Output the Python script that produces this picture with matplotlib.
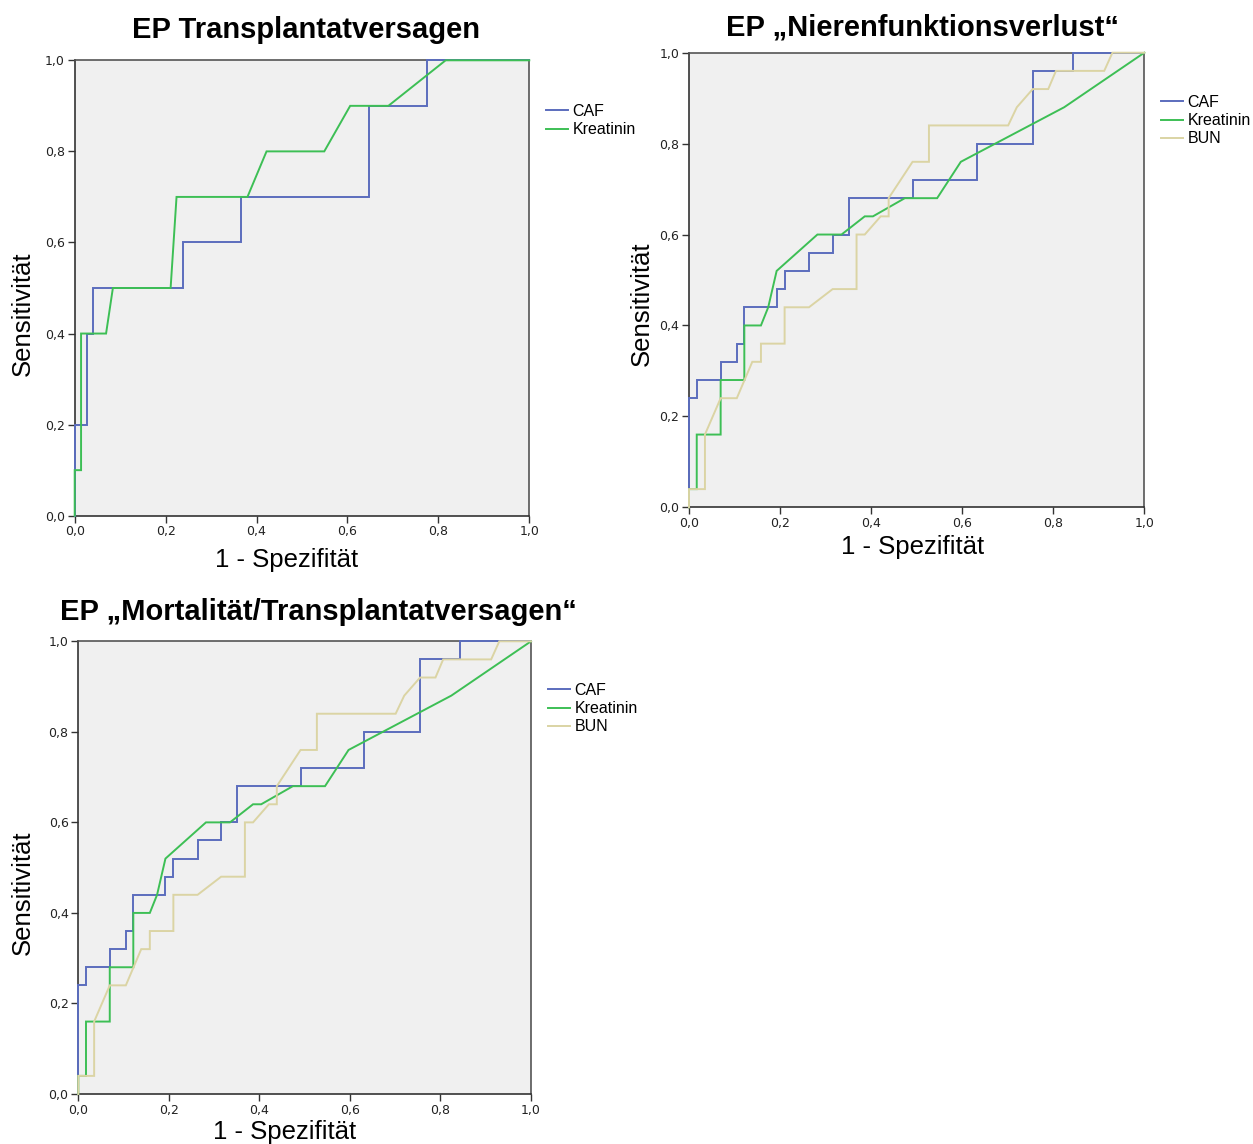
import matplotlib
matplotlib.use("Agg")
import matplotlib.pyplot as plt
from matplotlib.lines import Line2D
from matplotlib.ticker import FuncFormatter

# ---------------- data (ROC vertices: 1 - specificity, sensitivity) ----------------
# Panel 1: EP Transplantatversagen
tv_caf_fpr = [0, 0, 0.028, 0.028, 0.041, 0.041, 0.239, 0.239, 0.366, 0.366, 0.648, 0.648, 0.774, 0.774, 1.0]
tv_caf_tpr = [0, 0.2, 0.2, 0.4, 0.4, 0.5, 0.5, 0.6, 0.6, 0.7, 0.7, 0.9, 0.9, 1.0, 1.0]
tv_krea_fpr = [0, 0, 0.014, 0.014, 0.069, 0.084, 0.211, 0.224, 0.38, 0.422, 0.549, 0.606, 0.69, 0.816, 1.0]
tv_krea_tpr = [0, 0.1, 0.1, 0.4, 0.4, 0.5, 0.5, 0.7, 0.7, 0.8, 0.8, 0.9, 0.9, 1.0, 1.0]

# Panels 2 and 3: EP "Nierenfunktionsverlust" / "Mortalität/Transplantatversagen"
nf_caf_fpr = [0, 0, 0.017, 0.017, 0.0695, 0.0695, 0.105, 0.105, 0.1215, 0.1215, 0.1925, 0.1925,
              0.21, 0.21, 0.2635, 0.2635, 0.3155, 0.3155, 0.351, 0.351, 0.491, 0.491, 0.632, 0.632,
              0.755, 0.755, 0.843, 0.843, 1.0]
nf_caf_tpr = [0, 0.24, 0.24, 0.28, 0.28, 0.32, 0.32, 0.36, 0.36, 0.44, 0.44, 0.48, 0.48, 0.52,
              0.52, 0.56, 0.56, 0.60, 0.60, 0.68, 0.68, 0.72, 0.72, 0.80, 0.80, 0.96, 0.96, 1.0, 1.0]
nf_krea_fpr = [0, 0, 0.017, 0.017, 0.0695, 0.0695, 0.1215, 0.1215, 0.158, 0.174, 0.1925, 0.282,
               0.335, 0.386, 0.404, 0.474, 0.545, 0.597, 0.824, 1.0]
nf_krea_tpr = [0, 0.04, 0.04, 0.16, 0.16, 0.28, 0.28, 0.40, 0.40, 0.44, 0.52, 0.60, 0.60, 0.64,
               0.64, 0.68, 0.68, 0.76, 0.88, 1.0]
nf_bun_fpr = [0, 0, 0.035, 0.035, 0.0695, 0.105, 0.139, 0.158, 0.158, 0.21, 0.21, 0.2635, 0.3155,
              0.368, 0.368, 0.386, 0.421, 0.4385, 0.4385, 0.491, 0.527, 0.527, 0.701, 0.72, 0.755,
              0.789, 0.806, 0.912, 0.93, 1.0]
nf_bun_tpr = [0, 0.04, 0.04, 0.16, 0.24, 0.24, 0.32, 0.32, 0.36, 0.36, 0.44, 0.44, 0.48, 0.48,
              0.60, 0.60, 0.64, 0.64, 0.68, 0.76, 0.76, 0.84, 0.84, 0.88, 0.92, 0.92, 0.96, 0.96,
              1.0, 1.0]

titles = ["EP Transplantatversagen", "EP \u201eNierenfunktionsverlust\u201c",
          "EP \u201eMortalit\u00e4t/Transplantatversagen\u201c"]
series_names = ["CAF", "Kreatinin", "BUN"]
ticks = [0.0, 0.2, 0.4, 0.6, 0.8, 1.0]
xlabel = "1 - Spezifit\u00e4t"
ylabel = "Sensitivit\u00e4t"

# ---------------- styling ----------------
colors = {"CAF": "#5b6dbd", "Kreatinin": "#3dbf55", "BUN": "#dbd4a4"}
W, H = 1253, 1144
fig = plt.figure(figsize=(W / 100, H / 100), dpi=100)
fig.patch.set_facecolor("white")


def rect(l, t, r, b):
    return [l / W, 1 - b / H, (r - l) / W, (b - t) / H]


fmt = FuncFormatter(lambda v, p: f"{v:.1f}".replace(".", ","))

panels = [
    dict(box=(74.7, 60.3, 529.3, 515.7), title=titles[0], tpos=(306, 38),
         xl=(287, 567), yl=(23, 314), leg=(546, 104),
         series=[("CAF", tv_caf_fpr, tv_caf_tpr), ("Kreatinin", tv_krea_fpr, tv_krea_tpr)]),
    dict(box=(689, 52.7, 1144.3, 507.3), title=titles[1], tpos=(923, 35),
         xl=(913, 554), yl=(642, 304), leg=(1161, 95),
         series=[("CAF", nf_caf_fpr, nf_caf_tpr), ("Kreatinin", nf_krea_fpr, nf_krea_tpr),
                 ("BUN", nf_bun_fpr, nf_bun_tpr)]),
    dict(box=(78.3, 641.3, 531, 1094), title=titles[2], tpos=(318, 620),
         xl=(285, 1139), yl=(23, 893), leg=(548, 683),
         series=[("CAF", nf_caf_fpr, nf_caf_tpr), ("Kreatinin", nf_krea_fpr, nf_krea_tpr),
                 ("BUN", nf_bun_fpr, nf_bun_tpr)]),
]

for p in panels:
    ax = fig.add_axes(rect(*p["box"]))
    ax.set_facecolor("#f0f0f0")
    for name, xs, ys in p["series"]:
        ax.plot(xs, ys, color=colors[name], lw=1.4, solid_joinstyle="miter", clip_on=False,
                zorder=3)
    ax.set_xlim(0, 1)
    ax.set_ylim(0, 1)
    ax.set_xticks(ticks)
    ax.set_yticks(ticks)
    ax.xaxis.set_major_formatter(fmt)
    ax.yaxis.set_major_formatter(fmt)
    ax.tick_params(axis="both", direction="out", length=5, width=1.0, color="#333333",
                   labelsize=9, labelcolor="#222222", pad=2)
    for s in ax.spines.values():
        s.set_color("#555555")
        s.set_linewidth(1.2)
    ax.spines["left"].set_color("#333333")
    ax.spines["bottom"].set_color("#333333")

    fig.text(p["tpos"][0] / W, 1 - p["tpos"][1] / H, p["title"], ha="center", va="baseline",
             fontsize=21, fontweight="bold", family="Liberation Sans")
    fig.text(p["xl"][0] / W, 1 - p["xl"][1] / H, xlabel, ha="center", va="baseline",
             fontsize=18.5, family="Liberation Sans")
    fig.text(p["yl"][0] / W, 1 - p["yl"][1] / H, ylabel, ha="center", va="center",
             rotation=90, fontsize=18.5, family="Liberation Sans")

    handles = [Line2D([0], [0], color=colors[n], lw=1.4) for n, _, _ in p["series"]]
    labels = [n for n, _, _ in p["series"]]
    fig.legend(handles, labels, loc="upper left",
               bbox_to_anchor=(p["leg"][0] / W, 1 - p["leg"][1] / H),
               frameon=False, borderpad=0, borderaxespad=0, handlelength=1.4,
               handletextpad=0.25, labelspacing=0.2,
               prop={"family": "Liberation Sans", "size": 11.5})

fig.savefig("out.png", dpi=100, facecolor="white")
